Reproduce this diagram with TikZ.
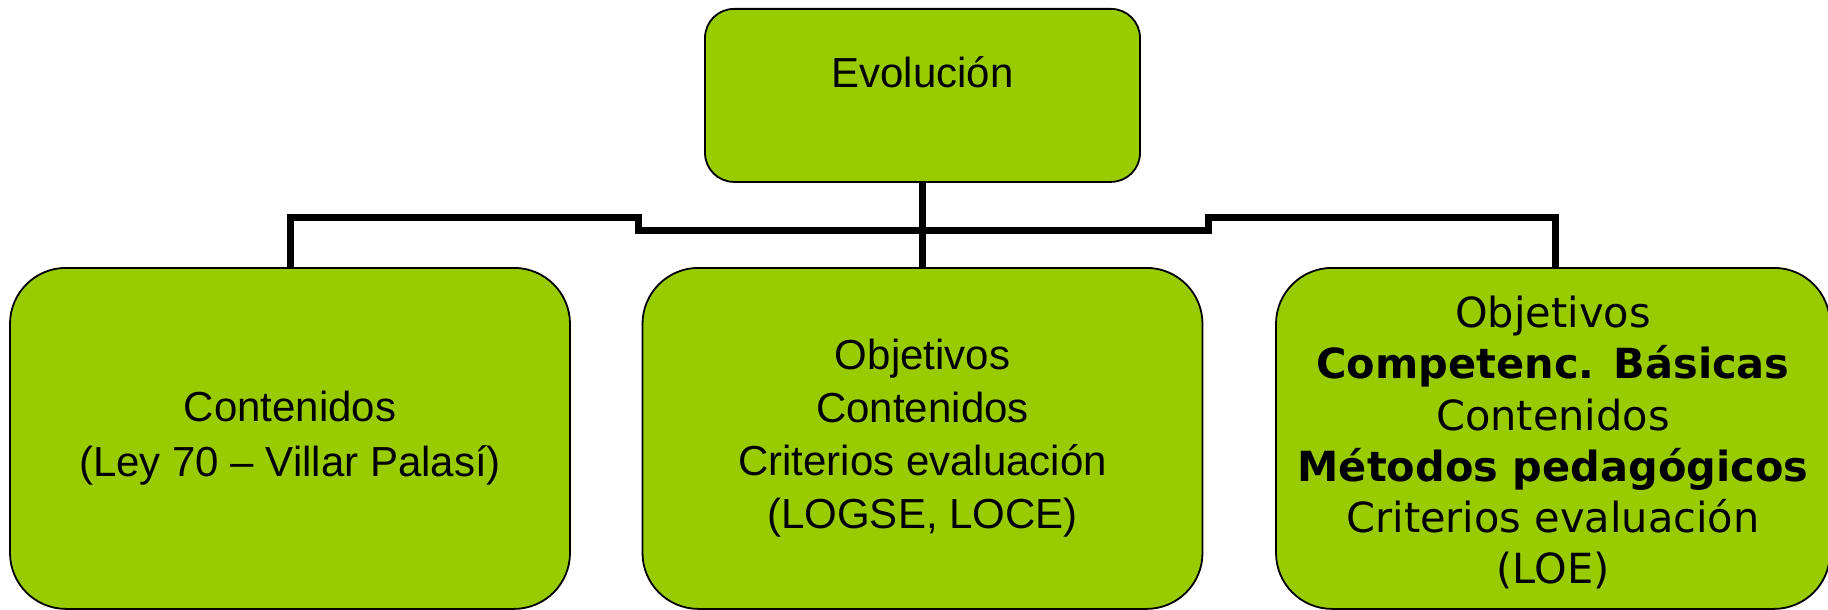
\documentclass[tikz,border=0pt]{standalone}
\usepackage{fontspec}
\setmainfont{Liberation Sans}
\newfontfamily\verdana{DejaVu Sans}
\usepackage{xcolor}
\usepackage{tikz}
\definecolor{leaf}{HTML}{99CC00}
\tikzset{
    gnode/.style = {align=center, inner sep=0pt, text centered, fill=leaf, draw=black, line width=1.8pt, anchor=north},
    top_node/.style = {gnode, rounded corners=29pt, minimum width=435pt, text height=79pt, text depth=94pt,
                       font=\fontsize{42}{53}\selectfont},
    big_node/.style = {gnode, rounded corners=56pt, minimum width=560pt, minimum height=341pt},
    bar/.style = {line width=7pt}
}

\begin{document}
\begin{tikzpicture}[x=1pt,y=-1pt]
    \useasboundingbox (0,0) rectangle (1828,610);
    \node [top_node] (evo) at (922.5,8) {Evolución};
    \node [big_node, font=\fontsize{42}{55}\selectfont] (ley70) at (290,267)
        {Contenidos\\(Ley 70 – Villar Palasí)};
    \node [big_node, font=\fontsize{42}{53}\selectfont] (logse) at (922.5,267)
        {Objetivos\\Contenidos\\Criterios evaluación\\(LOGSE, LOCE)};
    \node [big_node, minimum width=554pt, font=\verdana\fontsize{41.5}{51.3}\selectfont] (loe) at (1553,267)
        {\rule{0pt}{40pt}Objetivos\\\textbf{Competenc. Básicas}\\Contenidos\\\textbf{Métodos pedagógicos}\\Criterios evaluación\\(LOE)};
    \coordinate (stepL) at (638,230);
    \coordinate (stepR) at (1208,230);
    \draw [bar] (evo.south) -- (logse.north);
    \draw [bar] (ley70.north) |- ([yshift=13pt]stepL) -- (stepL) -- (stepR) -- ([yshift=13pt]stepR) -| ([xshift=2pt]loe.north);
\end{tikzpicture}
\end{document}
